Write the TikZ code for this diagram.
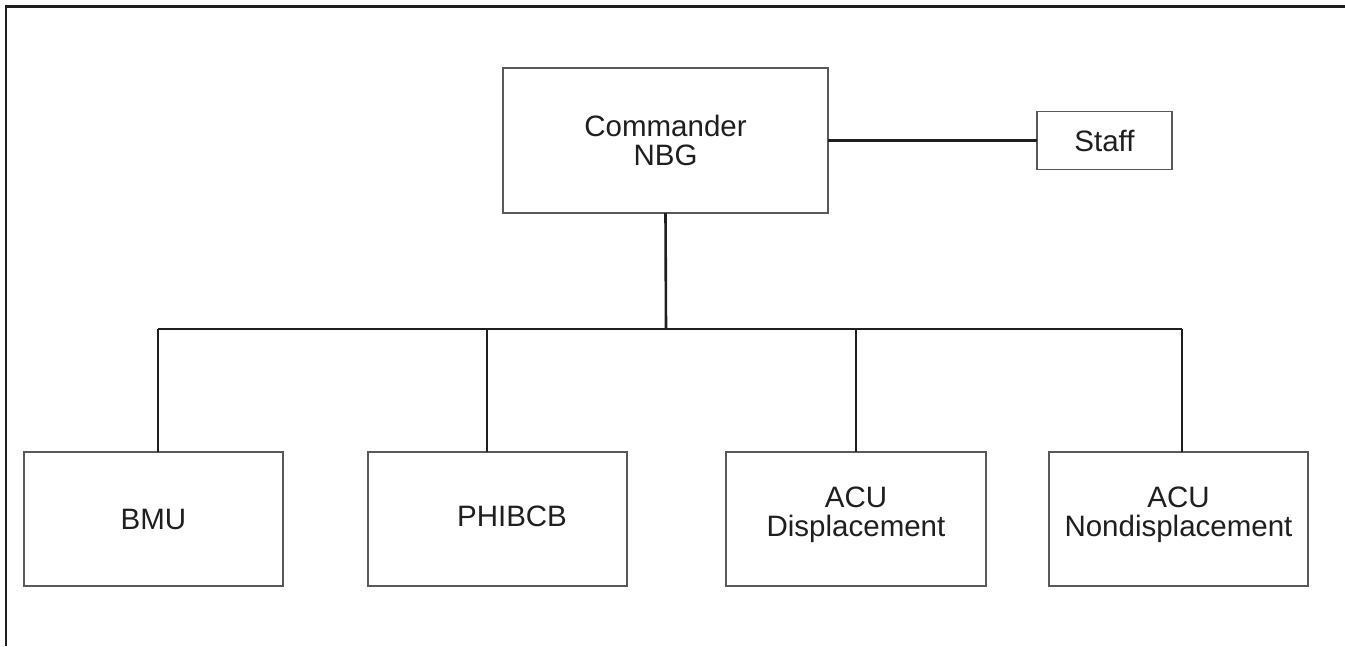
\documentclass[tikz,border=0pt]{standalone}
\usepackage{fontspec}
\setmainfont{Liberation Sans}
\begin{document}
\begin{tikzpicture}[x=1pt,y=-1pt,
  unitbox/.style={draw=black!65,line width=1.5pt,fill=white,rectangle,inner sep=0pt,outer sep=0pt,
    align=center,font=\fontsize{29.5}{29}\selectfont,text=black!88},
  link/.style={draw=black!88,line width=2.6pt},
  frameline/.style={draw=black!88,line width=2.6pt}]
\useasboundingbox (0,0) rectangle (1345,646);
% outer frame (left and top edges)
\draw[frameline] (6,646) -- (6,6.5) -- (1345,6.5);

% command level
\node[unitbox,minimum width=325pt,minimum height=145pt] (cmd) at (665.5,140.5) {Commander\\NBG};
\node[unitbox,minimum width=135pt,minimum height=58pt] (staff) at (1104.5,140.5) {Staff};

% subordinate units
\node[unitbox,minimum width=259pt,minimum height=134pt] (bmu) at (153.5,519) {BMU};
\node[unitbox,minimum width=259pt,minimum height=134pt] (phib) at (497.5,519) {\raisebox{6pt}{\hspace*{29pt}PHIBCB}};
\node[unitbox,minimum width=260pt,minimum height=134pt,text depth=14pt] (acud) at (856,519) {ACU\\Displacement};
\node[unitbox,minimum width=259pt,minimum height=134pt,text depth=14pt] (acun) at (1178.5,519) {ACU\\Nondisplacement};

% bus junctions
\coordinate (hub) at (666,329);
\coordinate (j1) at (158,329);
\coordinate (j2) at (487,329);
\coordinate (j3) at (856,329);
\coordinate (j4) at (1182,329);

% connectors
\draw[link] (cmd.east) -- (staff.west);
\draw[link] (cmd.south) -- (hub);
\draw[link] (j1) -- (j4);
\draw[link] (j1) -- (j1 |- bmu.north);
\draw[link] (j2) -- (j2 |- phib.north);
\draw[link] (j3) -- (j3 |- acud.north);
\draw[link] (j4) -- (j4 |- acun.north);
\end{tikzpicture}
\end{document}
